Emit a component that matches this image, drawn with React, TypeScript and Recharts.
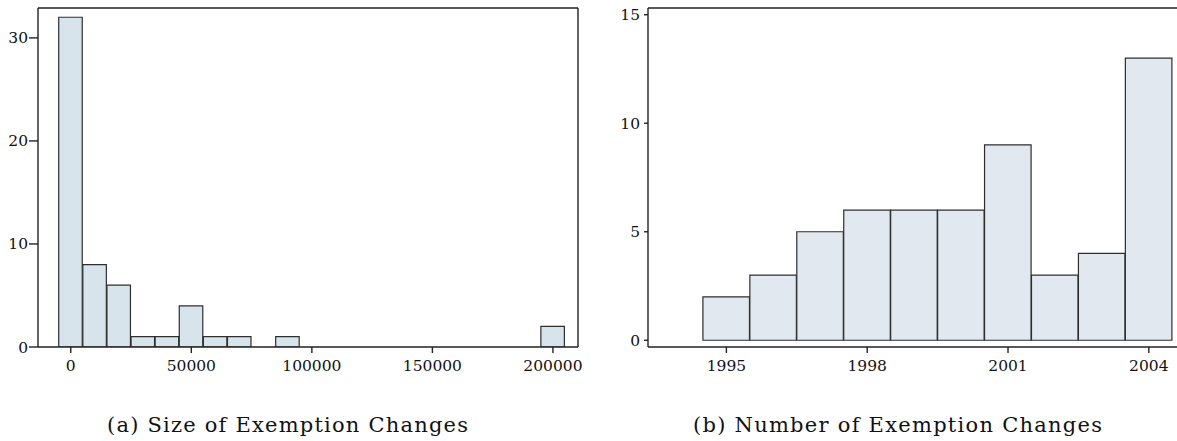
import { BarChart, Bar, XAxis, YAxis, ReferenceLine } from "recharts"

// (a) size of exemption changes: bin centres (width 10000) and counts
const sizeBins = [0, 10000, 20000, 30000, 40000, 50000, 60000, 70000, 80000, 90000, 100000, 110000, 120000, 130000, 140000, 150000, 160000, 170000, 180000, 190000, 200000]
const sizeCounts = [32, 8, 6, 1, 1, 4, 1, 1, 0, 1, 0, 0, 0, 0, 0, 0, 0, 0, 0, 0, 2]
const sizeXTicks = [0, 50000, 100000, 150000, 200000]
const sizeYTicks = [0, 10, 20, 30]

// (b) number of exemption changes per year
const years = [1995, 1996, 1997, 1998, 1999, 2000, 2001, 2002, 2003, 2004]
const yearCounts = [2, 3, 5, 6, 6, 6, 9, 3, 4, 13]
const yearXTicks = [1995, 1998, 2001, 2004]
const yearYTicks = [0, 5, 10, 15]

const sizeData = sizeBins.map((x, i) => ({ x, n: sizeCounts[i] }))
const yearData = years.map((x, i) => ({ x, n: yearCounts[i] }))

const FONT = "DejaVu Serif"
const AXIS = "#222"
const BAR_STROKE = "#2e2e2e"

function Tick(props: any) {
  const { x, y, payload, textAnchor, vertical } = props
  return (
    <text
      x={x}
      y={y}
      style={{ fontFamily: FONT, fontSize: 15.5 }}
      fill="#111"
      textAnchor={textAnchor}
      dy={vertical ? 5.5 : 12}
    >
      {payload.value}
    </text>
  )
}

// left panel
const A_W = 590, A_H = 400
const A_M = { top: 8, right: 12, bottom: 0, left: 0 }
const A_YW = 38, A_XH = 53
const A_X = [-13600, 210400]
const A_Y = [0, 32.9]
const A_BIN = 10000
const aPlotW = A_W - A_M.left - A_M.right - A_YW
const aBar = (aPlotW * A_BIN) / (A_X[1] - A_X[0]) - 0.6

// right panel
const B_W = 577, B_H = 400
const B_M = { top: 8, right: 0, bottom: 0, left: 0 }
const B_YW = 48, B_XH = 53
const B_X = [1993.33, 2004.6]
const B_Y = [-0.31, 15.31]
const bPlotW = B_W - B_M.left - B_M.right - B_YW
const bBar = bPlotW / (B_X[1] - B_X[0]) - 0.4

export default function App() {
  return (
    <div style={{ position: "absolute", left: 0, top: 0, width: 1177, height: 441, background: "#fff", overflow: "hidden" }}>

      {/* (a) */}
      <div style={{ position: "absolute", left: 0, top: 0 }}>
        <BarChart width={A_W} height={A_H} data={sizeData} margin={A_M}>
          <XAxis
            dataKey="x"
            type="number"
            domain={A_X}
            ticks={sizeXTicks}
            allowDataOverflow
            height={A_XH}
            tick={<Tick />}
            tickSize={6}
            tickMargin={6}
            stroke={AXIS}
            strokeWidth={1.4}
          />
          <YAxis
            type="number"
            domain={A_Y}
            ticks={sizeYTicks}
            allowDataOverflow
            width={A_YW}
            tick={<Tick vertical />}
            tickSize={9}
            tickMargin={1}
            stroke={AXIS}
            strokeWidth={1.4}
          />
          <ReferenceLine y={A_Y[1]} stroke={AXIS} strokeWidth={1.4} />
          <ReferenceLine x={A_X[1]} stroke={AXIS} strokeWidth={1.4} />
          <Bar dataKey="n" fill="#d8e4eb" stroke={BAR_STROKE} strokeWidth={1.2} barSize={aBar} isAnimationActive={false} />
        </BarChart>
      </div>

      {/* (b) */}
      <div style={{ position: "absolute", left: 600, top: 0 }}>
        <BarChart width={B_W} height={B_H} data={yearData} margin={B_M}>
          <XAxis
            dataKey="x"
            type="number"
            domain={B_X}
            ticks={yearXTicks}
            allowDataOverflow
            height={B_XH}
            tick={<Tick />}
            tickSize={6}
            tickMargin={6}
            stroke={AXIS}
            strokeWidth={1.4}
          />
          <YAxis
            type="number"
            domain={B_Y}
            ticks={yearYTicks}
            allowDataOverflow
            width={B_YW}
            tick={<Tick vertical />}
            tickSize={4}
            tickMargin={4}
            stroke={AXIS}
            strokeWidth={1.4}
          />
          <ReferenceLine y={B_Y[1]} stroke={AXIS} strokeWidth={1.4} />
          <Bar dataKey="n" fill="#e1e8ef" stroke={BAR_STROKE} strokeWidth={1.2} barSize={bBar} isAnimationActive={false} />
        </BarChart>
      </div>

      {/* captions */}
      <svg width={1177} height={441} style={{ position: "absolute", left: 0, top: 0 }}>
        <text x={107} y={432} style={{ fontFamily: FONT, fontSize: 21 }} fill="#111" textLength={361} lengthAdjust="spacing">
          (a) Size of Exemption Changes
        </text>
        <text x={693} y={432} style={{ fontFamily: FONT, fontSize: 21 }} fill="#111" textLength={409} lengthAdjust="spacing">
          (b) Number of Exemption Changes
        </text>
      </svg>
    </div>
  )
}
